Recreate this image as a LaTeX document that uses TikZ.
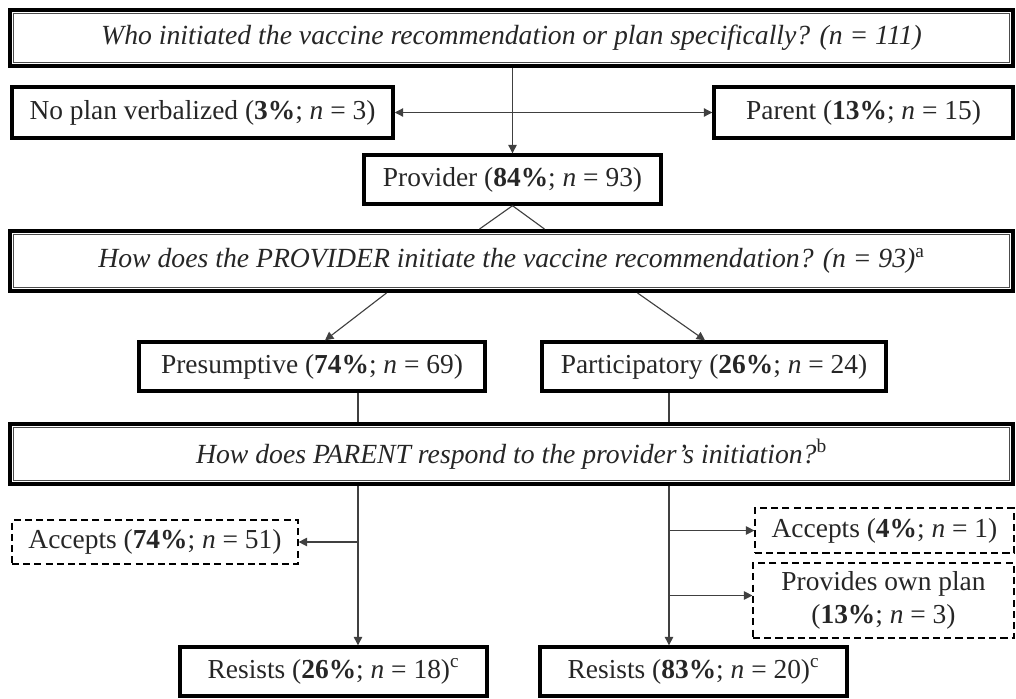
\documentclass[tikz,border=0pt]{standalone}
\usepackage{fontspec}
\setmainfont{Liberation Serif}
\usetikzlibrary{arrows.meta, calc}

\begin{document}
\begin{tikzpicture}[
    x=0.025cm, y=-0.025cm,
    font=\fontsize{19.5}{23}\selectfont,
    text=black!85,
    qbox/.style={
        rectangle,
        draw,
        line width=2.8pt,
        minimum width=25.08cm,
        minimum height=1.5cm,
        font=\fontsize{19.7}{23}\selectfont\itshape
    },
    catbox/.style={
        rectangle,
        draw,
        line width=2.4pt,
        minimum height=1.25cm
    },
    respbox/.style={
        rectangle,
        draw,
        line width=0.8pt,
        dash pattern=on 5pt off 3pt,
        align=center
    },
    innerframe/.style={line width=0.7pt, black!70},
    arrow/.style={-{Triangle[length=6pt, width=6pt]}, line width=0.8pt, black!75},
    link/.style={line width=0.8pt, black!75}
]
\useasboundingbox (0,0) rectangle (1016,698);

% questions
\node[qbox, minimum height=1.4cm] (q1) at (511.5,38)
    {Who initiated the vaccine recommendation or plan specifically? (n = 111)};
\node[qbox] (q2) at (511.5,261)
    {How does the PROVIDER initiate the vaccine recommendation? (n = 93)\textsuperscript{\upshape a}};
\node[qbox] (q3) at (511.5,454)
    {How does PARENT respond to the provider's initiation?\textsuperscript{\upshape b}};

\foreach \q in {q1,q2,q3}
    \draw[innerframe] ([shift={(5.5,5.5)}]\q.north west) rectangle ([shift={(-5.5,-5.5)}]\q.south east);

% who initiated
\node[catbox, minimum width=9.525cm, minimum height=1.275cm] (noplan) at (202.5,112.5)
    {No plan verbalized (\textbf{3\%}; \textit{n} = 3)};
\node[catbox, minimum width=7.475cm, minimum height=1.275cm] (parent) at (863.5,112.5)
    {Parent (\textbf{13\%}; \textit{n} = 15)};
\node[catbox, minimum width=7.425cm, minimum height=1.225cm] (provider) at (512.5,179.5)
    {Provider (\textbf{84\%}; \textit{n} = 93)};

% how provider initiates
\node[catbox, minimum width=8.65cm, minimum height=1.225cm] (presump) at (312,366.5)
    {Presumptive (\textbf{74\%}; \textit{n} = 69)};
\node[catbox, minimum width=8.6cm, minimum height=1.225cm] (particip) at (714,366.5)
    {Participatory (\textbf{26\%}; \textit{n} = 24)};

% parent response
\node[respbox, minimum width=7.15cm, minimum height=1.1cm] (acceptL) at (155,542)
    {Accepts (\textbf{74\%}; \textit{n} = 51)};
\node[catbox, minimum width=7.675cm, minimum height=1.225cm] (resistL) at (333.5,671.5)
    {Resists (\textbf{26\%}; \textit{n} = 18)\textsuperscript{c}};
\node[respbox, minimum width=6.475cm, minimum height=1.125cm] (acceptR) at (884.5,530.5)
    {Accepts (\textbf{4\%}; \textit{n} = 1)};
\node[respbox, minimum width=6.525cm, minimum height=1.875cm] (ownplan) at (883.5,600.5)
    {Provides own plan\\(\textbf{13\%}; \textit{n} = 3)};
\node[catbox, minimum width=7.675cm, minimum height=1.225cm] (resistR) at (693.5,671.5)
    {Resists (\textbf{83\%}; \textit{n} = 20)\textsuperscript{c}};

\coordinate (lspine) at (358,0);
\coordinate (rspine) at (669,0);

\draw[arrow] (q1.south -| provider.north) -- (provider.north);
\draw[arrow, {Triangle[length=6pt, width=6pt]}-{Triangle[length=6pt, width=6pt]}] (noplan) -- (parent);

\draw[link] (provider.south) -- ($(q2.north)+(-32,0)$);
\draw[link] (provider.south) -- ($(q2.north)+(33,0)$);

\draw[arrow] ($(q2.south)+(-125,0)$) -- ($(presump.north)+(13,0)$);
\draw[arrow] ($(q2.south)+(126,0)$) -- ($(particip.north)+(-9,0)$);

\draw[link] (presump.south -| lspine) -- (q3.north -| lspine);
\draw[link] (particip.south -| rspine) -- (q3.north -| rspine);

\draw[arrow] (q3.south -| lspine) -- (resistL.north -| lspine);
\draw[arrow] (lspine |- acceptL) -- (acceptL.east);

\draw[arrow] (q3.south -| rspine) -- (resistR.north -| rspine);
\draw[arrow] (rspine |- acceptR) -- (acceptR.west);
\draw[arrow] ($(rspine |- ownplan)+(0,-5)$) -- ($(ownplan.west)+(0,-5)$);

\end{tikzpicture}
\end{document}
